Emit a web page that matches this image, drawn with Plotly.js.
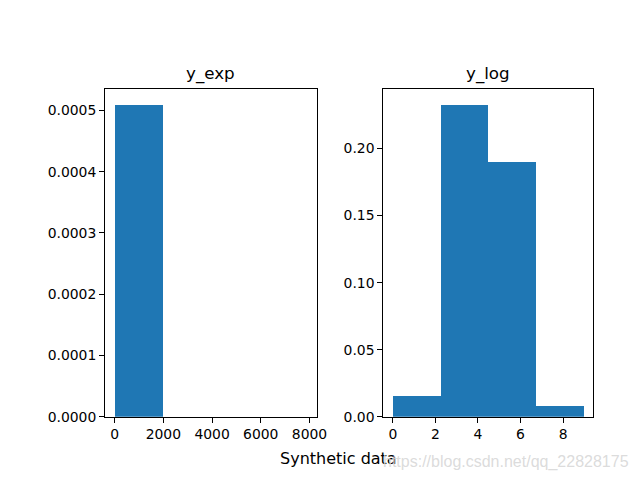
<!DOCTYPE html>
<html>
<head>
<meta charset="utf-8">
<script src="https://cdn.plot.ly/plotly-3.0.1.min.js"></script>
<style>html,body{margin:0;padding:0;background:#fff;}</style>
</head>
<body>
<div id="chart" style="width:640px;height:480px;"></div>
<script>
// Histogram of y_exp (density), 4 bins
const expBinEdges = [0, 1975, 3950, 5925, 7900];
const expDensity = [0.000509, 0.0000002, 0.00000005, 0.00000003];
// Histogram of y_log (density), 4 bins
const logBinEdges = [0, 2.243, 4.486, 6.729, 8.972];
const logDensity = [0.0157, 0.2326, 0.1903, 0.0080];

const titles = ["y_exp", "y_log"];
const xLabel = "Synthetic data";
const watermark = "https://blog.csdn.net/qq_22828175";

function centers(edges){ const c=[]; for(let i=0;i<edges.length-1;i++) c.push((edges[i]+edges[i+1])/2); return c; }
function widths(edges){ const w=[]; for(let i=0;i<edges.length-1;i++) w.push(edges[i+1]-edges[i]); return w; }

const color = "#1f77b4";
const traces = [
  {type:"bar", x:centers(expBinEdges), y:expDensity, width:widths(expBinEdges),
   marker:{color:color, line:{width:0}}, xaxis:"x", yaxis:"y", hoverinfo:"x+y"},
  {type:"bar", x:centers(logBinEdges), y:logDensity, width:widths(logBinEdges),
   marker:{color:color, line:{width:0}}, xaxis:"x2", yaxis:"y2", hoverinfo:"x+y"}
];

function span(edges, vals){
  const lo = edges[0], hi = edges[edges.length-1], d = hi-lo;
  return {x:[lo-0.05*d, hi+0.05*d], y:[0, Math.max(...vals)*1.05]};
}
const s1 = span(expBinEdges, expDensity), s2 = span(logBinEdges, logDensity);

const font = {family:"DejaVu Sans, sans-serif", size:13.9, color:"#000"};
const axBase = {showline:true, mirror:true, linecolor:"#000", linewidth:1, ticks:"outside",
  ticklen:5, tickwidth:1, tickcolor:"#000", showgrid:false, zeroline:false, fixedrange:true,
  tickfont:font};

const yDom = [0.1319, 0.8140];
const layout = {
  width:640, height:480, margin:{l:0,r:0,t:0,b:0},
  paper_bgcolor:"#fff", plot_bgcolor:"#fff", showlegend:false, bargap:0,
  font:font,
  xaxis: Object.assign({}, axBase, {domain:[0.1641,0.4948], range:s1.x, dtick:2000, tick0:0, tickformat:"d", anchor:"y"}),
  yaxis: Object.assign({}, axBase, {domain:yDom, range:s1.y, dtick:0.0001, tick0:0, tickformat:".4f", anchor:"x"}),
  xaxis2: Object.assign({}, axBase, {domain:[0.5989,0.9270], range:s2.x, dtick:2, tick0:0, tickformat:"d", anchor:"y2"}),
  yaxis2: Object.assign({}, axBase, {domain:yDom, range:s2.y, dtick:0.05, tick0:0, tickformat:".2f", anchor:"x2"}),
  annotations:[
    {text:titles[0], xref:"paper", yref:"paper", x:(0.1641+0.4948)/2, y:yDom[1], yanchor:"bottom", xanchor:"center", yshift:3, showarrow:false, font:{family:"DejaVu Sans, sans-serif", size:16.7, color:"#000"}},
    {text:titles[1], xref:"paper", yref:"paper", x:(0.5989+0.9270)/2, y:yDom[1], yanchor:"bottom", xanchor:"center", yshift:3, showarrow:false, font:{family:"DejaVu Sans, sans-serif", size:16.7, color:"#000"}},
    {text:xLabel, xref:"paper", yref:"paper", x:338/640, y:1-458/480, yanchor:"middle", xanchor:"center", showarrow:false, font:{family:"DejaVu Sans, sans-serif", size:16, color:"#000"}},
    {text:watermark, xref:"paper", yref:"paper", x:631/640, y:1-462/480, yanchor:"middle", xanchor:"right", showarrow:false, font:{family:"Liberation Sans, Arial, sans-serif", size:16, color:"rgba(215,215,215,0.9)"}}
  ]
};
Plotly.newPlot("chart", traces, layout, {displayModeBar:false, staticPlot:true});
</script>
</body>
</html>
